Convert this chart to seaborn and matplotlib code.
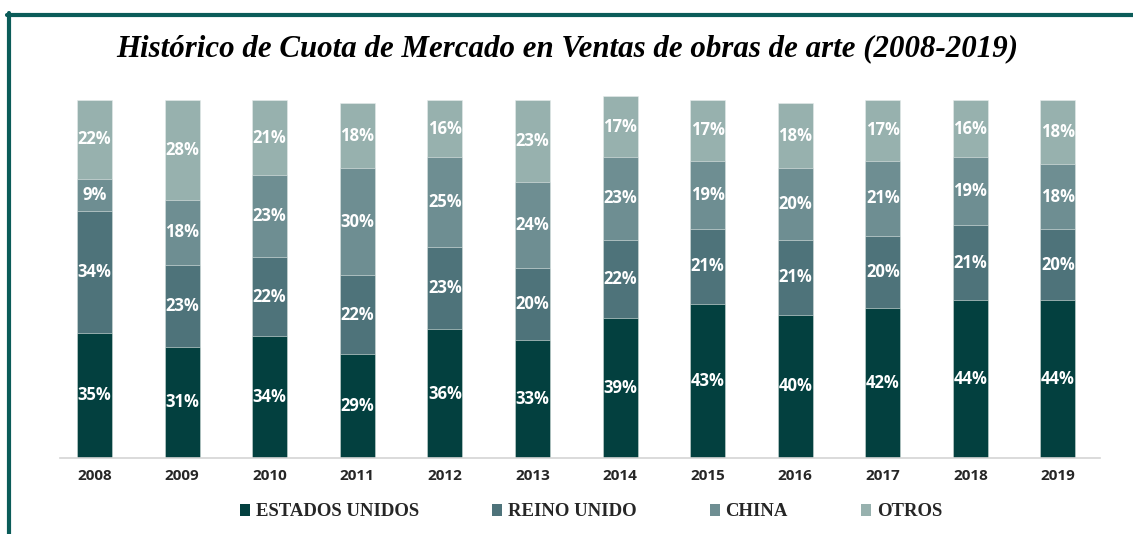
import numpy as np
import pandas as pd
import matplotlib
matplotlib.use("Agg")
import matplotlib.pyplot as plt
import seaborn as sns
from matplotlib.lines import Line2D
from matplotlib.patches import Patch

sns.set_theme(style="white")

# data (percent share per year)
years = ["2008", "2009", "2010", "2011", "2012", "2013",
         "2014", "2015", "2016", "2017", "2018", "2019"]
estados_unidos = [35, 31, 34, 29, 36, 33, 39, 43, 40, 42, 44, 44]
reino_unido = [34, 23, 22, 22, 23, 20, 22, 21, 21, 20, 21, 20]
china = [9, 18, 23, 30, 25, 24, 23, 19, 20, 21, 19, 18]
otros = [22, 28, 21, 18, 16, 23, 17, 17, 18, 17, 16, 18]

series_names = ["ESTADOS UNIDOS", "REINO UNIDO", "CHINA", "OTROS"]
colors = ["#03403f", "#4e737a", "#6e8e92", "#97b1ae"]

df = pd.DataFrame({"year": years, "ESTADOS UNIDOS": estados_unidos,
                   "REINO UNIDO": reino_unido, "CHINA": china, "OTROS": otros})
cum = df[series_names].cumsum(axis=1)

fig = plt.figure(figsize=(11.33, 5.34), dpi=100)
ax = fig.add_axes([60 / 1133, 76 / 534, 1040 / 1133, 376 / 534])

# stacked bars: draw cumulative totals from the top series down
for name, col in reversed(list(zip(series_names, colors))):
    sns.barplot(x=df["year"], y=cum[name], color=col, width=0.4,
                saturation=1, edgecolor="#e6ecea", linewidth=0.4, ax=ax)

# segment labels
for i in range(len(years)):
    base = 0
    for name in series_names:
        v = df.loc[i, name]
        ax.text(i, base + v / 2, f"{v}%", ha="center", va="center",
                color="white", fontsize=12, fontweight="bold",
                family=["Open Sans", "DejaVu Sans"])
        base += v

ax.set_xlim(-0.394, 11.48)
ax.set_ylim(0, 105)
ax.set_xlabel("")
ax.set_ylabel("")
ax.set_yticks([])
for s in ["top", "right", "left"]:
    ax.spines[s].set_visible(False)
ax.spines["bottom"].set_color("#d4d4d4")
ax.spines["bottom"].set_linewidth(1.2)
ax.tick_params(axis="x", length=0, pad=8)
for lab in ax.get_xticklabels():
    lab.set_fontweight("bold")
    lab.set_fontsize(11)
    lab.set_color("#262626")
    lab.set_family(["Open Sans", "DejaVu Sans"])

# title
fig.text(567 / 1133, 1 - 49 / 534,
         "Histórico de Cuota de Mercado en Ventas de obras de arte (2008-2019)",
         ha="center", va="center", fontsize=22.2, fontweight="bold",
         style="italic", family=["Liberation Serif", "DejaVu Serif"], color="black")

# legend
handles = [Patch(facecolor=c, edgecolor="none") for c in colors]
leg = fig.legend(handles, series_names, loc="center", ncol=4,
                 bbox_to_anchor=(591 / 1133, 1 - 512 / 534), frameon=False,
                 handlelength=0.55, handleheight=0.55, handletextpad=0.3,
                 columnspacing=3.9,
                 prop={"family": ["Liberation Serif", "DejaVu Serif"],
                       "weight": "bold", "size": 13.5})

# frame lines (top and left)
frame_col = "#0b5c59"
fig.add_artist(Line2D([7 / 1133, 1.0], [1 - 15 / 534, 1 - 15 / 534],
                      transform=fig.transFigure, color=frame_col, lw=3))
fig.add_artist(Line2D([9 / 1133, 9 / 1133], [1 - 13 / 534, 0.0],
                      transform=fig.transFigure, color=frame_col, lw=3))

fig.savefig("out.png", dpi=100)
